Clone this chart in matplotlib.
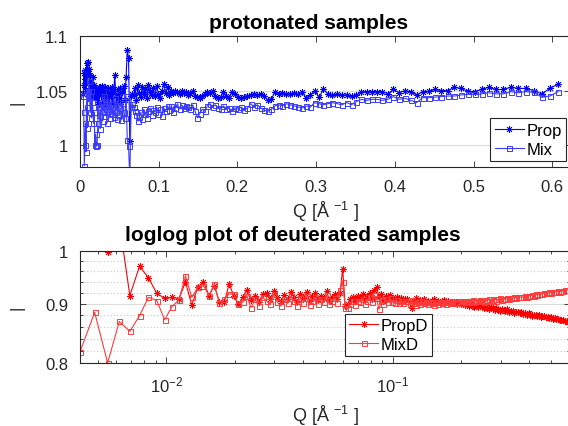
import matplotlib
matplotlib.use("Agg")
import matplotlib.pyplot as plt
from matplotlib.ticker import FixedLocator, FormatStrFormatter, LogLocator, NullFormatter

plt.rcParams['font.family'] = ['Liberation Sans', 'DejaVu Sans']
plt.rcParams['mathtext.fontset'] = 'custom'
plt.rcParams['mathtext.rm'] = 'Liberation Sans'
plt.rcParams['mathtext.it'] = 'Liberation Sans:italic'

# scattering vector Q [1/A], shared by all four curves
q = [0.00415, 0.004818, 0.005498, 0.006189, 0.006891, 0.007605, 0.00833, 0.009067, 0.009817, 0.010579,
     0.011354, 0.012141, 0.012941, 0.013755, 0.014582, 0.015423, 0.016277, 0.017146, 0.018029, 0.018926,
     0.019838, 0.020765, 0.021708, 0.022666, 0.02364, 0.02463, 0.025636, 0.026659, 0.027699, 0.028756,
     0.02983, 0.030922, 0.032032, 0.033161, 0.034308, 0.035474, 0.036659, 0.037864, 0.039089, 0.040334,
     0.0416, 0.042886, 0.044194, 0.045523, 0.046874, 0.048247, 0.049643, 0.051062, 0.052505, 0.053971,
     0.055462, 0.056977, 0.058517, 0.060083, 0.061674, 0.063292, 0.064936, 0.066607, 0.068306, 0.070033,
     0.071789, 0.073573, 0.075387, 0.077231, 0.079105, 0.08101, 0.082947, 0.084916, 0.086917, 0.088951,
     0.091019, 0.093121, 0.095258, 0.09743, 0.099638, 0.101882, 0.104163, 0.106482, 0.108839, 0.111235,
     0.11367, 0.116146, 0.118662, 0.12122, 0.12382, 0.126463, 0.12915, 0.131881, 0.134657, 0.137479,
     0.140347, 0.143263, 0.146227, 0.14924, 0.152302, 0.155415, 0.158579, 0.161796, 0.165066, 0.16839,
     0.171768, 0.175202, 0.178693, 0.182241, 0.185848, 0.189514, 0.193241, 0.19703, 0.200881, 0.204795,
     0.208774, 0.212819, 0.216931, 0.22111, 0.225358, 0.229676, 0.234066, 0.238528, 0.243064, 0.247675,
     0.252362, 0.257126, 0.261969, 0.266891, 0.271895, 0.276981, 0.282151, 0.287407, 0.292749, 0.298179,
     0.303699, 0.30931, 0.315014, 0.320812, 0.326705, 0.332696, 0.338785, 0.344975, 0.351267, 0.357663,
     0.364165, 0.370774, 0.377492, 0.384321, 0.391262, 0.398318, 0.40549, 0.412781, 0.420192, 0.427725,
     0.435383, 0.443167, 0.451079, 0.459122, 0.467297, 0.475607, 0.484055, 0.492642, 0.501371, 0.510244,
     0.519263, 0.528431, 0.53775, 0.547223, 0.556852, 0.56664, 0.57659, 0.586704, 0.596985, 0.607435]

prop = [1.047, 1.066, 1.055, 1.061, 1.069, 1.050, 1.075, 1.058, 1.076, 1.066,
        1.070, 1.052, 1.064, 1.045, 1.058, 1.050, 1.062, 1.048, 1.055, 1.043,
        1.052, 1.046, 1.050, 1.040, 1.053, 1.038, 1.052, 1.046, 1.054, 1.037,
        1.050, 1.042, 1.053, 1.036, 1.047, 1.052, 1.039, 1.049, 1.044, 1.053,
        1.038, 1.050, 1.064, 1.045, 1.036, 1.051, 1.043, 1.052, 1.040, 1.049,
        1.054, 1.041, 1.062, 1.0875, 1.080, 1.004, 1.045, 1.047, 1.046, 1.052,
        1.041, 1.055, 1.048, 1.044, 1.053, 1.047, 1.051, 1.043, 1.055, 1.049,
        1.046, 1.052, 1.045, 1.054, 1.047, 1.043, 1.050, 1.056, 1.048, 1.053,
        1.046, 1.050, 1.048, 1.050, 1.049, 1.047, 1.050, 1.048, 1.049, 1.046,
        1.048, 1.050, 1.045, 1.044, 1.043, 1.045, 1.047, 1.049, 1.048, 1.050,
        1.045, 1.043, 1.044, 1.049, 1.045, 1.043, 1.049, 1.047, 1.044, 1.043,
        1.044, 1.045, 1.046, 1.047, 1.046, 1.047, 1.045, 1.041, 1.042, 1.049,
        1.047, 1.048, 1.047, 1.047, 1.048, 1.047, 1.049, 1.043, 1.046, 1.050,
        1.044, 1.051, 1.047, 1.046, 1.047, 1.046, 1.046, 1.045, 1.046, 1.049,
        1.049, 1.049, 1.049, 1.049, 1.047, 1.051, 1.048, 1.050, 1.049, 1.046,
        1.049, 1.0495, 1.051, 1.050, 1.050, 1.053, 1.052, 1.0495, 1.049, 1.051,
        1.053, 1.051, 1.051, 1.053, 1.052, 1.052, 1.050, 1.047, 1.052, 1.056]

mix = [1.045, 1.030, 0.981, 1.000, 1.020, 0.994, 1.035, 1.016, 1.050, 1.040,
       1.059, 1.045, 1.030, 1.050, 1.025, 1.040, 1.035, 1.020, 1.030, 1.000,
       1.010, 0.999, 1.000, 1.020, 1.035, 1.028, 1.015, 1.040, 1.030, 1.022,
       1.036, 1.045, 1.027, 1.033, 1.020, 1.040, 1.031, 1.025, 1.038, 1.029,
       1.035, 1.026, 1.043, 1.030, 1.024, 1.037, 1.028, 1.034, 1.023, 1.039,
       1.030, 1.025, 1.045, 1.005, 0.999, 0.970, 1.035, 1.038, 1.035, 1.031,
       1.028, 1.022, 1.026, 1.030, 1.024, 1.033, 1.029, 1.025, 1.031, 1.034,
       1.028, 1.032, 1.030, 1.035, 1.029, 1.033, 1.027, 1.034, 1.031, 1.036,
       1.032, 1.036, 1.030, 1.034, 1.038, 1.033, 1.037, 1.034, 1.036, 1.035,
       1.033, 1.037, 1.031, 1.025, 1.029, 1.033, 1.031, 1.036, 1.038, 1.035,
       1.037, 1.034, 1.033, 1.036, 1.033, 1.034, 1.031, 1.034, 1.033, 1.035,
       1.032, 1.034, 1.038, 1.035, 1.037, 1.034, 1.032, 1.031, 1.033, 1.036,
       1.037, 1.036, 1.038, 1.037, 1.036, 1.035, 1.034, 1.036, 1.035, 1.039,
       1.038, 1.037, 1.038, 1.039, 1.038, 1.037, 1.039, 1.037, 1.040, 1.042,
       1.041, 1.042, 1.042, 1.041, 1.042, 1.0445, 1.042, 1.043, 1.041, 1.039,
       1.0435, 1.0435, 1.044, 1.0445, 1.045, 1.045, 1.046, 1.0465, 1.0465, 1.047,
       1.048, 1.047, 1.047, 1.049, 1.048, 1.049, 1.0485, 1.044, 1.045, 1.049]

propd = [1.050, 1.030, 0.999, 1.060, 0.915, 0.970, 0.948, 0.919, 0.910, 0.912,
         0.909, 0.940, 0.898, 0.930, 0.941, 0.915, 0.933, 0.903, 0.903, 0.936,
         0.915, 0.899, 0.912, 0.925, 0.907, 0.915, 0.903, 0.918, 0.920, 0.909,
         0.924, 0.912, 0.905, 0.916, 0.908, 0.921, 0.913, 0.904, 0.917, 0.910,
         0.922, 0.906, 0.914, 0.919, 0.908, 0.915, 0.910, 0.923, 0.906, 0.913,
         0.918, 0.909, 0.920, 0.965, 0.896, 0.900, 0.908, 0.912, 0.905, 0.915,
         0.910, 0.918, 0.907, 0.913, 0.920, 0.909, 0.925, 0.930, 0.912, 0.918,
         0.906, 0.914, 0.909, 0.916, 0.910, 0.907, 0.913, 0.906, 0.911, 0.905,
         0.909, 0.908, 0.904, 0.893, 0.906, 0.910, 0.902, 0.907, 0.904, 0.909,
         0.903, 0.906, 0.901, 0.905, 0.908, 0.903, 0.906, 0.902, 0.905, 0.907,
         0.903, 0.905, 0.902, 0.904, 0.901, 0.903, 0.900, 0.902, 0.899, 0.901,
         0.898, 0.900, 0.896, 0.899, 0.897, 0.895, 0.898, 0.894, 0.896, 0.897,
         0.893, 0.895, 0.893, 0.891, 0.894, 0.892, 0.889, 0.893, 0.890, 0.888,
         0.891, 0.889, 0.887, 0.890, 0.886, 0.888, 0.887, 0.884, 0.886, 0.885,
         0.883, 0.885, 0.882, 0.884, 0.881, 0.883, 0.882, 0.879, 0.881, 0.880,
         0.879, 0.880, 0.877, 0.879, 0.878, 0.876, 0.877, 0.875, 0.876, 0.874,
         0.875, 0.873, 0.874, 0.872, 0.871, 0.872, 0.870, 0.869, 0.868, 0.867]

mixd = [0.818, 0.885, 0.800, 0.869, 0.852, 0.879, 0.912, 0.906, 0.872, 0.895,
        0.907, 0.952, 0.912, 0.930, 0.933, 0.915, 0.936, 0.902, 0.909, 0.918,
        0.918, 0.900, 0.903, 0.915, 0.893, 0.908, 0.897, 0.912, 0.905, 0.899,
        0.917, 0.903, 0.896, 0.909, 0.901, 0.914, 0.905, 0.897, 0.910, 0.902,
        0.915, 0.898, 0.906, 0.912, 0.900, 0.908, 0.903, 0.916, 0.899, 0.906,
        0.911, 0.902, 0.925, 0.940, 0.893, 0.892, 0.900, 0.905, 0.898, 0.906,
        0.903, 0.909, 0.900, 0.906, 0.912, 0.903, 0.916, 0.910, 0.890, 0.906,
        0.900, 0.908, 0.903, 0.910, 0.904, 0.901, 0.907, 0.902, 0.906, 0.901,
        0.905, 0.905, 0.900, 0.907, 0.902, 0.898, 0.904, 0.900, 0.906, 0.901,
        0.903, 0.899, 0.904, 0.901, 0.898, 0.903, 0.900, 0.904, 0.901, 0.903,
        0.900, 0.904, 0.902, 0.905, 0.901, 0.904, 0.903, 0.906, 0.902, 0.905,
        0.904, 0.906, 0.903, 0.905, 0.907, 0.904, 0.906, 0.905, 0.907, 0.906,
        0.904, 0.907, 0.906, 0.908, 0.905, 0.907, 0.909, 0.906, 0.908, 0.910,
        0.907, 0.909, 0.908, 0.910, 0.909, 0.911, 0.910, 0.912, 0.911, 0.913,
        0.912, 0.913, 0.912, 0.914, 0.913, 0.915, 0.914, 0.916, 0.915, 0.917,
        0.916, 0.918, 0.917, 0.918, 0.919, 0.920, 0.919, 0.921, 0.920, 0.922,
        0.921, 0.922, 0.923, 0.922, 0.924, 0.923, 0.925, 0.926, 0.925, 0.927]

dark = '#262626'
xlab = 'Q [Å $^{-1}$ ]'
asterisk = (8, 2, 0)  # MATLAB style '*' marker


def style_axes(ax):
    for s in ax.spines.values():
        s.set_color(dark)
        s.set_linewidth(0.8)
    ax.tick_params(which='both', direction='in', top=True, right=True,
                   colors=dark, labelsize=12, width=0.6, pad=8.5)
    ax.tick_params(which='major', length=4.5)
    ax.tick_params(which='minor', length=2.5)


def add_legend(ax, anchor, loc):
    leg = ax.legend(loc=loc, bbox_to_anchor=anchor, borderaxespad=0,
                    fancybox=False, edgecolor=dark, framealpha=1, fontsize=12,
                    handlelength=1.75, handletextpad=0.15, borderpad=0.25,
                    labelspacing=0.25)
    leg.get_frame().set_linewidth(0.8)


fig = plt.figure(figsize=(5.68, 4.27), dpi=100)

# top: protonated samples, linear axes (box runs just past the right image edge)
ax1 = fig.add_axes([80 / 568, 1 - 168 / 427, 490 / 568, 131 / 427])
ax1.plot(q, prop, '-', marker=asterisk, color='#0000ff', lw=0.8, ms=5, mew=0.6, label='Prop')
ax1.plot(q, mix, '-s', color='#3a3aff', lw=0.8, ms=3.6, mfc='none', mew=0.7, label='Mix')
ax1.set_xlim(0, 0.6226)
ax1.set_ylim(0.98, 1.1)
ax1.xaxis.set_major_locator(FixedLocator([0, 0.1, 0.2, 0.3, 0.4, 0.5, 0.6]))
ax1.yaxis.set_major_locator(FixedLocator([1, 1.05, 1.1]))
ax1.xaxis.set_major_formatter(FormatStrFormatter('%g'))
ax1.yaxis.set_major_formatter(FormatStrFormatter('%g'))
ax1.yaxis.grid(True, color='#dcdcdc', lw=0.8)
ax1.set_axisbelow(True)
style_axes(ax1)
t1 = ax1.set_title('protonated samples', fontsize=15, fontweight='bold', pad=6)
t1.set_x(0.466)
ax1.set_xlabel(xlab, fontsize=13, color=dark, labelpad=4)
ax1.set_ylabel('|', fontsize=12, color=dark)
ax1.yaxis.set_label_coords(-0.113, 0.5)
add_legend(ax1, (0.9915, 0.046), 'lower right')

# bottom: deuterated samples, log-log axes
ax2 = fig.add_axes([80 / 568, 1 - 364 / 427, 490 / 568, 112 / 427])
ax2.plot(q, propd, '-', marker=asterisk, color='#ff0000', lw=0.8, ms=5, mew=0.6, label='PropD')
ax2.plot(q, mixd, '-s', color='#ff3a3a', lw=0.8, ms=3.6, mfc='none', mew=0.7, label='MixD')
ax2.set_xscale('log')
ax2.set_yscale('log')
ax2.set_xlim(q[0], q[-1])
ax2.set_ylim(0.8, 1.0)
ax2.xaxis.set_major_locator(LogLocator(base=10, numticks=10))
ax2.xaxis.set_minor_locator(LogLocator(base=10, subs=range(2, 10), numticks=10))
ax2.xaxis.set_minor_formatter(NullFormatter())
ax2.yaxis.set_major_locator(FixedLocator([0.8, 0.9, 1.0]))
ax2.yaxis.set_minor_locator(FixedLocator([0.82, 0.84, 0.86, 0.88, 0.92, 0.94, 0.96, 0.98]))
ax2.yaxis.set_major_formatter(FormatStrFormatter('%g'))
ax2.yaxis.set_minor_formatter(NullFormatter())
ax2.yaxis.grid(True, which='major', color='#dcdcdc', lw=0.8)
ax2.yaxis.grid(True, which='minor', color='#c8c8c8', lw=0.8, ls=(0, (1, 2)))
ax2.set_axisbelow(True)
style_axes(ax2)
t2 = ax2.set_title('loglog plot of deuterated samples', fontsize=15, fontweight='bold', pad=8)
t2.set_x(0.435)
ax2.set_xlabel(xlab, fontsize=13, color=dark, labelpad=6)
ax2.set_ylabel('|', fontsize=12, color=dark)
ax2.yaxis.set_label_coords(-0.113, 0.5)
add_legend(ax2, (0.541, 0.0625), 'lower left')

fig.savefig('out.png', dpi=100)
